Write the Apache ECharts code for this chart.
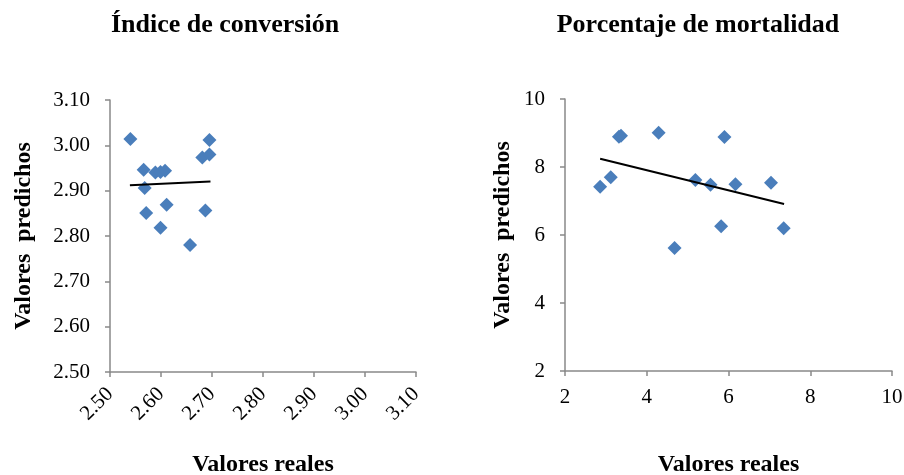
<!DOCTYPE html>
<html>
<head>
<meta charset="utf-8">
<script src="https://cdn.jsdelivr.net/npm/echarts@6/dist/echarts.min.js"></script>
<style>
html,body{margin:0;padding:0;background:#fff;}
#chart{width:904px;height:475px;}
</style>
</head>
<body>
<div id="chart"></div>
<script>
// Chart 1: Índice de conversión
var convReal = [2.540, 2.566, 2.568, 2.571, 2.589, 2.599, 2.608, 2.599, 2.611, 2.657, 2.681, 2.695, 2.695, 2.687];
var convPred = [3.014, 2.946, 2.906, 2.851, 2.940, 2.941, 2.944, 2.818, 2.869, 2.780, 2.973, 2.980, 3.012, 2.856];
var convTrendX = [2.539, 2.697];
var convTrendY = [2.912, 2.920];
// Chart 2: Porcentaje de mortalidad
var mortReal = [2.86, 3.12, 3.32, 3.37, 4.29, 4.68, 5.19, 5.56, 5.82, 5.90, 6.17, 7.04, 7.35];
var mortPred = [7.42, 7.70, 8.89, 8.92, 9.01, 5.62, 7.62, 7.48, 6.26, 8.88, 7.49, 7.54, 6.20];
var mortTrendX = [2.86, 7.36];
var mortTrendY = [8.24, 6.91];

var titles = ['Índice de conversión', 'Porcentaje de mortalidad'];
var xName = 'Valores reales';
var yName = 'Valores  predichos';

function pairs(a, b) { return a.map(function (v, i) { return [v, b[i]]; }); }

var FONT = '"Liberation Serif", "Times New Roman", serif';
var axisColor = '#898989';
var TICK_FS = 21;

function axisCommon() {
  return {
    axisLine: { show: true, lineStyle: { color: axisColor, width: 1.5 } },
    axisTick: { show: true, inside: false, length: 5, lineStyle: { color: axisColor, width: 1.5 } },
    splitLine: { show: false },
    nameTextStyle: { color: '#000', fontFamily: FONT, fontSize: 24, fontWeight: 'bold' }
  };
}

function merge(a, b) { for (var k in b) a[k] = b[k]; return a; }

var chart = echarts.init(document.getElementById('chart'), null, { renderer: 'canvas' });
var option = {
  backgroundColor: '#fff',
  animation: false,
  title: [
    { text: titles[0], left: 220, top: 7, textAlign: 'center',
      textStyle: { fontFamily: FONT, fontSize: 26, fontWeight: 'bold', color: '#000' } },
    { text: titles[1], left: 693, top: 7, textAlign: 'center',
      textStyle: { fontFamily: FONT, fontSize: 26, fontWeight: 'bold', color: '#000' } }
  ],
  grid: [
    { left: 110, top: 100, width: 306, height: 272, containLabel: false, outerBoundsMode: 'none' },
    { left: 565, top: 99, width: 327, height: 272, containLabel: false, outerBoundsMode: 'none' }
  ],
  xAxis: [
    merge(axisCommon(), {
      type: 'value', gridIndex: 0, min: 2.5, max: 3.1, interval: 0.1,
      name: xName, nameLocation: 'middle', nameGap: 81,
      axisLabel: { color: '#000', fontFamily: FONT, fontSize: TICK_FS, rotate: 45, margin: 19,
        formatter: function (v) { return v.toFixed(2); } }
    }),
    merge(axisCommon(), {
      type: 'value', gridIndex: 1, min: 2, max: 10, interval: 2,
      name: xName, nameLocation: 'middle', nameGap: 82,
      axisLabel: { color: '#000', fontFamily: FONT, fontSize: TICK_FS, margin: 16 }
    })
  ],
  yAxis: [
    merge(axisCommon(), {
      type: 'value', gridIndex: 0, min: 2.5, max: 3.1, interval: 0.1,
      name: yName, nameLocation: 'middle', nameGap: 74, nameRotate: 90,
      axisLabel: { color: '#000', fontFamily: FONT, fontSize: TICK_FS, margin: 20,
        formatter: function (v) { return v.toFixed(2); } }
    }),
    merge(axisCommon(), {
      type: 'value', gridIndex: 1, min: 2, max: 10, interval: 2,
      name: yName, nameLocation: 'middle', nameGap: 50, nameRotate: 90,
      axisLabel: { color: '#000', fontFamily: FONT, fontSize: TICK_FS, margin: 20 }
    })
  ],
  series: [
    { type: 'scatter', xAxisIndex: 0, yAxisIndex: 0, data: pairs(convReal, convPred),
      symbol: 'diamond', symbolSize: 14, itemStyle: { color: '#4A7EBB', opacity: 1 }, z: 3 },
    { type: 'line', xAxisIndex: 0, yAxisIndex: 0, data: pairs(convTrendX, convTrendY),
      symbol: 'none', lineStyle: { color: '#000', width: 2 }, z: 4 },
    { type: 'scatter', xAxisIndex: 1, yAxisIndex: 1, data: pairs(mortReal, mortPred),
      symbol: 'diamond', symbolSize: 14, itemStyle: { color: '#4A7EBB', opacity: 1 }, z: 3 },
    { type: 'line', xAxisIndex: 1, yAxisIndex: 1, data: pairs(mortTrendX, mortTrendY),
      symbol: 'none', lineStyle: { color: '#000', width: 2 }, z: 4 }
  ]
};
chart.setOption(option);
</script>
</body>
</html>
